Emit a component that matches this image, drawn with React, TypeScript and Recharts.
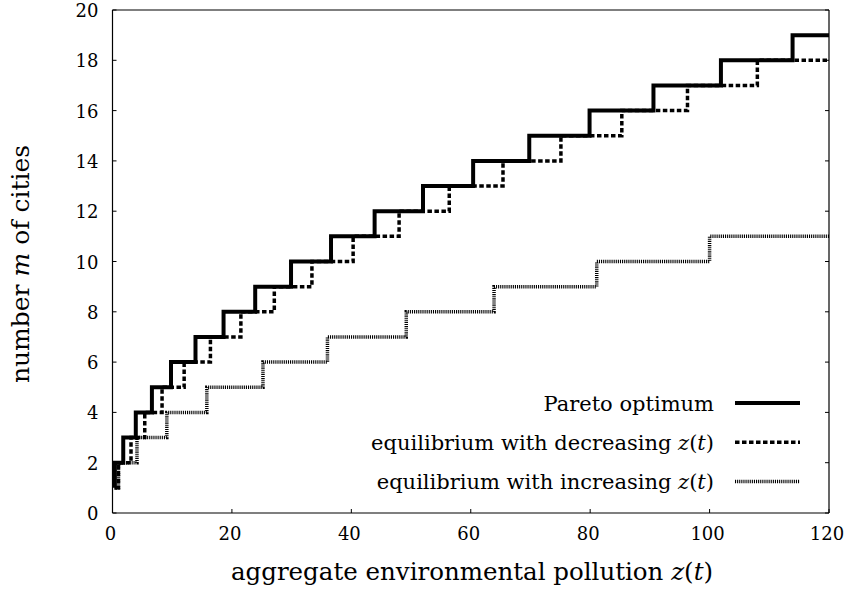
import { LineChart, Line, XAxis, YAxis } from 'recharts'

// step positions (z where m jumps to the next value)
const paretoZ = [0.3, 0.4, 1.8, 3.9, 6.6, 9.8, 13.9, 18.6, 23.9, 29.9, 36.6, 43.9, 52.0, 60.4, 69.8, 79.9, 90.6, 101.9, 113.9, 120]
const paretoM = [1, 2, 3, 4, 5, 6, 7, 8, 9, 10, 11, 12, 13, 14, 15, 16, 17, 18, 19, 19]

const decreasingZ = [0.6, 1.0, 3.1, 5.4, 8.3, 12.0, 16.4, 21.5, 27.1, 33.4, 40.3, 48.0, 56.4, 65.4, 75.1, 85.3, 96.3, 108.0, 120]
const decreasingM = [1, 2, 3, 4, 5, 6, 7, 8, 9, 10, 11, 12, 13, 14, 15, 16, 17, 18, 18]

const increasingZ = [0.5, 1.0, 4.1, 9.1, 15.8, 25.2, 36.0, 49.2, 63.9, 81.1, 100.0, 120]
const increasingM = [1, 2, 3, 4, 5, 6, 7, 8, 9, 10, 11, 11]

const xTicks = [0, 20, 40, 60, 80, 100, 120]
const yTicks = [0, 2, 4, 6, 8, 10, 12, 14, 16, 18, 20]

const toRows = (zs: number[], ms: number[]) => zs.map((z, i) => ({ z, m: ms[i] }))

const pareto = toRows(paretoZ, paretoM)
const decreasing = toRows(decreasingZ, decreasingM)
const increasing = toRows(increasingZ, increasingM)

const FONT = '"DejaVu Serif", serif'
const TICK = 4

const solidStyle = { stroke: '#000', strokeWidth: 4 }
const dashStyle = { stroke: '#000', strokeWidth: 3.5, strokeDasharray: '4.5 2.5' }
const dotStyle = { stroke: '#000', strokeWidth: 3.5, strokeDasharray: '1.1 1' }

const BottomTick = ({ x, y, payload }: any) => (
  <g>
    <line x1={x} y1={y} x2={x} y2={y - TICK} stroke="#000" />
    <text x={x - 2} y={y + 27} textAnchor="middle" fontFamily={FONT} fontSize={18} fill="#000">
      {payload.value}
    </text>
  </g>
)

const LeftTick = ({ x, y, payload }: any) => (
  <g>
    <line x1={x} y1={y} x2={x + TICK} y2={y} stroke="#000" />
    <text x={x - 14} y={y + 7} textAnchor="end" fontFamily={FONT} fontSize={18} fill="#000">
      {payload.value}
    </text>
  </g>
)

const TopTick = ({ x, y }: any) => <line x1={x} y1={y} x2={x} y2={y + TICK} stroke="#000" />
const RightTick = ({ x, y }: any) => <line x1={x} y1={y} x2={x - TICK} y2={y} stroke="#000" />

const legendRows = [
  { label: 'Pareto optimum', style: solidStyle },
  { label: 'decreasing', style: dashStyle },
  { label: 'increasing', style: dotStyle },
]

const App = () => {
  return (
    <div style={{ position: 'absolute', left: 0, top: 0, width: 845, height: 592, background: '#fff' }}>
      <LineChart width={845} height={592} margin={{ top: 0, right: 0, left: 0, bottom: 0 }}>
        <XAxis
          xAxisId="b"
          dataKey="z"
          type="number"
          domain={[0, 120]}
          ticks={xTicks}
          interval={0}
          height={79}
          tickSize={0}
          tickMargin={0}
          tickLine={false}
          tick={BottomTick}
          axisLine={{ stroke: '#000', strokeWidth: 1.2 }}
          allowDataOverflow
        />
        <XAxis
          xAxisId="t"
          orientation="top"
          type="number"
          domain={[0, 120]}
          ticks={xTicks}
          interval={0}
          height={10}
          tickSize={0}
          tickMargin={0}
          tickLine={false}
          tick={TopTick}
          axisLine={{ stroke: '#000', strokeWidth: 1.2 }}
          allowDataOverflow
        />
        <YAxis
          yAxisId="l"
          type="number"
          domain={[0, 20]}
          ticks={yTicks}
          interval={0}
          width={112.5}
          tickSize={0}
          tickMargin={0}
          tickLine={false}
          tick={LeftTick}
          axisLine={{ stroke: '#000', strokeWidth: 1.2 }}
          allowDataOverflow
        />
        <YAxis
          yAxisId="r"
          orientation="right"
          type="number"
          domain={[0, 20]}
          ticks={yTicks}
          interval={0}
          width={16}
          tickSize={0}
          tickMargin={0}
          tickLine={false}
          tick={RightTick}
          axisLine={{ stroke: '#000', strokeWidth: 1.2 }}
          allowDataOverflow
        />
        <Line
          xAxisId="b"
          yAxisId="l"
          data={increasing}
          dataKey="m"
          type="stepAfter"
          dot={false}
          activeDot={false}
          strokeLinecap="butt"
          {...dotStyle}
          isAnimationActive={false}
        />
        <Line
          xAxisId="b"
          yAxisId="l"
          data={decreasing}
          dataKey="m"
          type="stepAfter"
          dot={false}
          activeDot={false}
          strokeLinecap="butt"
          {...dashStyle}
          isAnimationActive={false}
        />
        <Line
          xAxisId="b"
          yAxisId="l"
          data={pareto}
          dataKey="m"
          type="stepAfter"
          dot={false}
          activeDot={false}
          strokeLinecap="butt"
          {...solidStyle}
          isAnimationActive={false}
        />
      </LineChart>

      {/* axis titles and key */}
      <svg
        width={845}
        height={592}
        style={{ position: 'absolute', left: 0, top: 0, pointerEvents: 'none' }}
        fontFamily={FONT}
        fill="#000"
      >
        <text x={22} y={264} fontSize={25} textAnchor="middle" dominantBaseline="middle" transform="rotate(-90, 22, 264)">
          number <tspan fontStyle="italic">m</tspan> of cities
        </text>
        <text x={472} y={580} fontSize={24.5} textAnchor="middle">
          aggregate environmental pollution <tspan fontStyle="italic">z</tspan>(<tspan fontStyle="italic">t</tspan>)
        </text>
        {legendRows.map((row, i) => {
          const cy = 403 + i * 39.3
          return (
            <g key={row.label}>
              <text x={714} y={cy + 7.5} fontSize={21} textAnchor="end">
                {i === 0 ? (
                  row.label
                ) : (
                  <>
                    equilibrium with {row.label} <tspan fontStyle="italic">z</tspan>(<tspan fontStyle="italic">t</tspan>)
                  </>
                )}
              </text>
              <line x1={735} y1={cy} x2={800} y2={cy} {...row.style} />
            </g>
          )
        })}
      </svg>
    </div>
  )
}

export default App
